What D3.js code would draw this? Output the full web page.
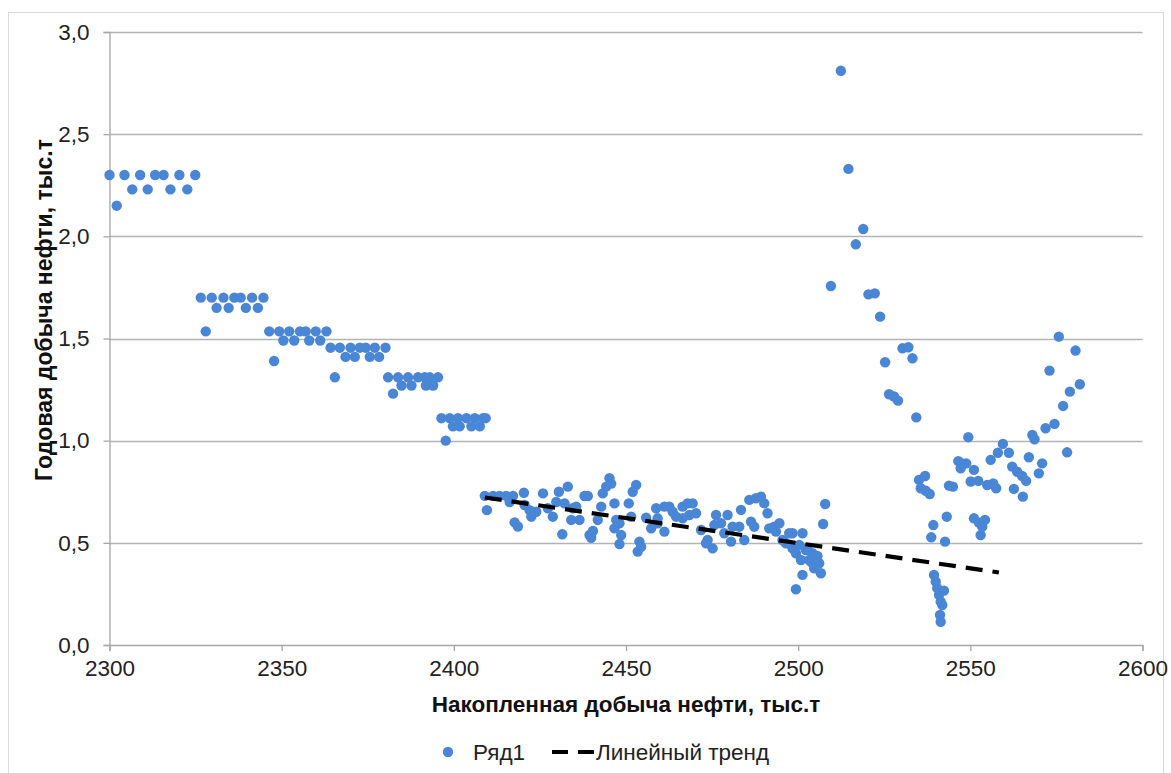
<!DOCTYPE html>
<html>
<head>
<meta charset="utf-8">
<script src="https://cdn.jsdelivr.net/npm/d3@7/dist/d3.min.js"></script>
<style>
  html, body { margin: 0; padding: 0; background: #fff; }
  svg { display: block; font-family: "Liberation Sans", Arial, sans-serif; }
</style>
</head>
<body>
<svg id="chart" width="1171" height="773"></svg>
<script>
// ---- Data ----
const seriesName = "Ряд1";
const trendName = "Линейный тренд";
const xTitle = "Накопленная добыча нефти, тыс.т";
const yTitle = "Годовая добыча нефти, тыс.т";

const xTicks = [2300, 2350, 2400, 2450, 2500, 2550, 2600];
const yTicks = [0, 0.5, 1.0, 1.5, 2.0, 2.5, 3.0];

// Accumulated oil production (x) and annual production (y), point by point
const seriesX = [
  // step groups
  2300.0, 2302.1, 2304.35, 2306.6, 2308.9, 2311.1, 2313.25, 2315.7, 2317.7, 2320.3, 2322.6, 2324.9,
  2326.5, 2327.95, 2329.7, 2331.1, 2333.1, 2334.6, 2336.25, 2338.1, 2339.6, 2341.4, 2343.1, 2344.7,
  2346.4, 2347.8, 2349.3, 2350.5, 2352.2, 2353.65, 2355.3, 2357.0, 2358.0, 2359.9, 2361.2, 2363.0,
  2364.2, 2365.45, 2366.9, 2368.55, 2370.0, 2371.25, 2372.7, 2374.4, 2375.6, 2377.05, 2378.3, 2380.15,
  2380.9, 2382.35, 2383.8, 2384.8, 2386.7, 2387.7, 2389.6, 2391.55, 2391.9, 2393.0, 2394.0, 2395.4,
  2396.4, 2397.65, 2398.8, 2399.75, 2401.2, 2401.7, 2403.65, 2405.1, 2406.1, 2407.55, 2408.5, 2409.25,
  // dense cluster
  2409.0, 2409.6, 2411.4, 2413.3, 2415.2, 2417.2, 2416.2, 2420.35, 2417.65, 2418.6,
  2420.55, 2422.0, 2422.5, 2423.95, 2425.9, 2427.3, 2428.75, 2430.5, 2433.1, 2429.75,
  2432.15, 2431.5, 2434.55, 2435.55, 2434.1, 2436.5, 2437.95, 2438.9, 2439.4, 2440.4,
  2439.9, 2441.8, 2442.8, 2443.25, 2444.25, 2445.2, 2445.7, 2446.65, 2447.15, 2448.1,
  2446.65, 2448.6, 2448.1, 2450.8, 2451.95, 2452.95, 2451.5, 2453.9, 2454.4, 2453.4,
  2455.85, 2457.3, 2458.75, 2459.2, 2459.2, 2461.15, 2461.15, 2462.6, 2463.55, 2464.55,
  2466.45, 2467.9, 2469.35, 2468.4, 2470.35, 2466.45, 2471.8, 2473.7, 2475.15, 2473.25,
  2476.15, 2475.65, 2477.6, 2479.5, 2478.55, 2480.5, 2480.95, 2482.9, 2484.35, 2483.4,
  2485.8, 2487.75, 2489.2, 2490.15, 2491.1, 2486.3, 2487.25, 2491.6, 2493.05, 2494.55,
  2493.55, 2495.45, 2497.4, 2498.35, 2501.25, 2496.45, 2498.35, 2499.35, 2500.8, 2502.25,
  2504.15, 2505.15, 2503.2, 2506.1, 2504.65, 2506.6, 2501.25, 2499.35, 2507.85, 2507.25,
  2500.3, 2502.6, 2503.8, 2505.6,
  // sharp rise and decline
  2509.5, 2512.4, 2514.6, 2516.75, 2518.9, 2520.4, 2522.25, 2523.8, 2525.25, 2526.4,
  2527.85, 2529.0, 2530.3, 2532.0, 2533.2, 2534.3,
  // right group
  2535.1, 2536.85, 2535.6, 2537.05, 2538.2, 2539.25, 2538.65, 2543.15, 2542.65,
  2539.45, 2539.95, 2540.4, 2542.35, 2540.9, 2541.4, 2541.85, 2541.2, 2541.4,
  2543.8, 2544.95, 2546.5, 2547.65, 2547.2, 2548.8, 2549.4, 2551.05, 2550.1, 2552.3,
  2554.9, 2556.65, 2557.5, 2551.05, 2552.5, 2554.25, 2553.45, 2553.0, 2555.9, 2558.0,
  2559.45, 2561.2, 2562.15, 2563.6, 2565.05, 2566.2, 2562.65, 2565.25, 2567.0, 2568.0,
  2568.65, 2569.9, 2570.85, 2571.85, 2573.0, 2574.45, 2575.7, 2576.95, 2578.1, 2578.9,
  2580.55, 2581.8
];
const seriesY = [
  2.30, 2.15, 2.30, 2.23, 2.30, 2.23, 2.30, 2.30, 2.23, 2.30, 2.23, 2.30,
  1.70, 1.535, 1.70, 1.65, 1.70, 1.65, 1.70, 1.70, 1.65, 1.70, 1.65, 1.70,
  1.535, 1.39, 1.535, 1.49, 1.535, 1.49, 1.535, 1.535, 1.49, 1.535, 1.49, 1.535,
  1.455, 1.31, 1.455, 1.41, 1.455, 1.41, 1.455, 1.455, 1.41, 1.455, 1.41, 1.455,
  1.31, 1.23, 1.31, 1.27, 1.31, 1.27, 1.31, 1.31, 1.27, 1.31, 1.27, 1.31,
  1.11, 1.00, 1.11, 1.07, 1.11, 1.07, 1.11, 1.07, 1.11, 1.07, 1.11, 1.11,
  0.73, 0.66, 0.73, 0.73, 0.73, 0.73, 0.70, 0.745, 0.60, 0.58,
  0.685, 0.66, 0.628, 0.652, 0.742, 0.669, 0.628, 0.75, 0.775, 0.70,
  0.693, 0.542, 0.669, 0.677, 0.612, 0.612, 0.729, 0.729, 0.538, 0.558,
  0.525, 0.612, 0.677, 0.742, 0.775, 0.816, 0.79, 0.693, 0.612, 0.596,
  0.571, 0.538, 0.494, 0.693, 0.75, 0.783, 0.628, 0.506, 0.481, 0.457,
  0.623, 0.571, 0.669, 0.596, 0.62, 0.555, 0.677, 0.677, 0.652, 0.628,
  0.677, 0.693, 0.693, 0.636, 0.645, 0.62, 0.563, 0.514, 0.473, 0.498,
  0.636, 0.587, 0.596, 0.636, 0.547, 0.506, 0.579, 0.579, 0.514, 0.661,
  0.71, 0.718, 0.726, 0.693, 0.645, 0.604, 0.579, 0.571, 0.579, 0.596,
  0.555, 0.514, 0.547, 0.547, 0.547, 0.498, 0.473, 0.449, 0.416, 0.465,
  0.449, 0.416, 0.416, 0.40, 0.375, 0.351, 0.343, 0.273, 0.69, 0.592,
  0.49, 0.475, 0.406, 0.436,
  1.757, 2.81, 2.33, 1.961, 2.036, 1.716, 1.721, 1.607, 1.384, 1.227,
  1.216, 1.196, 1.452, 1.457, 1.403, 1.114,
  0.808, 0.827, 0.767, 0.755, 0.739, 0.587, 0.527, 0.628, 0.506,
  0.343, 0.31, 0.278, 0.266, 0.245, 0.212, 0.196, 0.147, 0.114,
  0.78, 0.775, 0.90, 0.889, 0.865, 0.889, 1.017, 0.857, 0.80, 0.803,
  0.783, 0.791, 0.767, 0.62, 0.599, 0.612, 0.579, 0.538, 0.906, 0.941,
  0.984, 0.941, 0.873, 0.848, 0.827, 0.803, 0.764, 0.726, 0.919, 1.028,
  1.007, 0.84, 0.889, 1.061, 1.343, 1.082, 1.509, 1.17, 0.943, 1.24,
  1.441, 1.276
];

// Linear trend line endpoints as drawn
const trendX = [2409.0, 2558.3];
const trendY = [0.722, 0.355];

// ---- Layout ----
const svg = d3.select("#chart");
const plot = { left: 109.5, right: 1142.5, top: 32, bottom: 645 };
const FONT = "Liberation Sans, Arial, sans-serif";

svg.append("rect").attr("x", 8.5).attr("y", 12.5).attr("width", 1155).attr("height", 775)
  .attr("fill", "#fff").attr("stroke", "#d9d9d9").attr("stroke-width", 1);

const x = d3.scaleLinear().domain([2300, 2600]).range([plot.left, plot.right]);
const y = d3.scaleLinear().domain([0, 3]).range([plot.bottom, plot.top]);

const fmt = d => d3.format(".1f")(d).replace(".", ",");

// gridlines
svg.append("g").selectAll("line").data(yTicks.filter(d => d > 0)).join("line")
  .attr("x1", plot.left).attr("x2", plot.right)
  .attr("y1", d => Math.round(y(d)) + 0.5).attr("y2", d => Math.round(y(d)) + 0.5)
  .attr("stroke", "#b3b3b3").attr("stroke-width", 1.3);

// Y axis
const yAxis = svg.append("g").attr("transform", `translate(${plot.left},0)`)
  .call(d3.axisLeft(y).tickValues(yTicks).tickFormat(fmt).tickSize(6).tickPadding(14));
yAxis.select(".domain").attr("stroke", "#a6a6a6").attr("stroke-width", 1.3);
yAxis.selectAll(".tick line").attr("stroke", "#a6a6a6").attr("stroke-width", 1.3);
yAxis.selectAll(".tick text").attr("font-size", 22.5).attr("fill", "#222")
  .attr("font-family", FONT);

// X axis
const xAxis = svg.append("g").attr("transform", `translate(0,${plot.bottom})`)
  .call(d3.axisBottom(x).tickValues(xTicks).tickFormat(d3.format("d")).tickSize(6).tickPadding(9));
xAxis.select(".domain").attr("stroke", "#a6a6a6").attr("stroke-width", 1.3);
xAxis.selectAll(".tick line").attr("stroke", "#a6a6a6").attr("stroke-width", 1.3);
xAxis.selectAll(".tick text").attr("font-size", 22.5).attr("fill", "#222")
  .attr("font-family", FONT);

// points
const pts = seriesX.map((v, i) => ({ x: v, y: seriesY[i] }));
svg.append("g").selectAll("circle").data(pts).join("circle")
  .attr("cx", d => x(d.x)).attr("cy", d => y(d.y)).attr("r", 5.2)
  .attr("fill", "#4a86d6");

// trend
svg.append("line")
  .attr("x1", x(trendX[0])).attr("y1", y(trendY[0]))
  .attr("x2", x(trendX[1])).attr("y2", y(trendY[1]))
  .attr("stroke", "#000").attr("stroke-width", 4.2)
  .attr("stroke-dasharray", "17,10");

// axis titles
svg.append("text").attr("x", 626).attr("y", 712).attr("text-anchor", "middle")
  .attr("font-size", 22.5).attr("font-weight", "bold").attr("fill", "#111").text(xTitle);
svg.append("text").attr("transform", "translate(52,310) rotate(-90)").attr("text-anchor", "middle")
  .attr("font-size", 23).attr("font-weight", "bold").attr("fill", "#111").text(yTitle);

// legend
const lg = svg.append("g");
lg.append("circle").attr("cx", 448).attr("cy", 752).attr("r", 5.2).attr("fill", "#4a86d6");
lg.append("text").attr("x", 473).attr("y", 760).attr("font-size", 22.5).attr("fill", "#222").text(seriesName);
lg.append("line").attr("x1", 552).attr("x2", 594).attr("y1", 752).attr("y2", 752)
  .attr("stroke", "#000").attr("stroke-width", 4.2).attr("stroke-dasharray", "16,10");
lg.append("text").attr("x", 596).attr("y", 760).attr("font-size", 22.5).attr("fill", "#222").text(trendName);
</script>
</body>
</html>
